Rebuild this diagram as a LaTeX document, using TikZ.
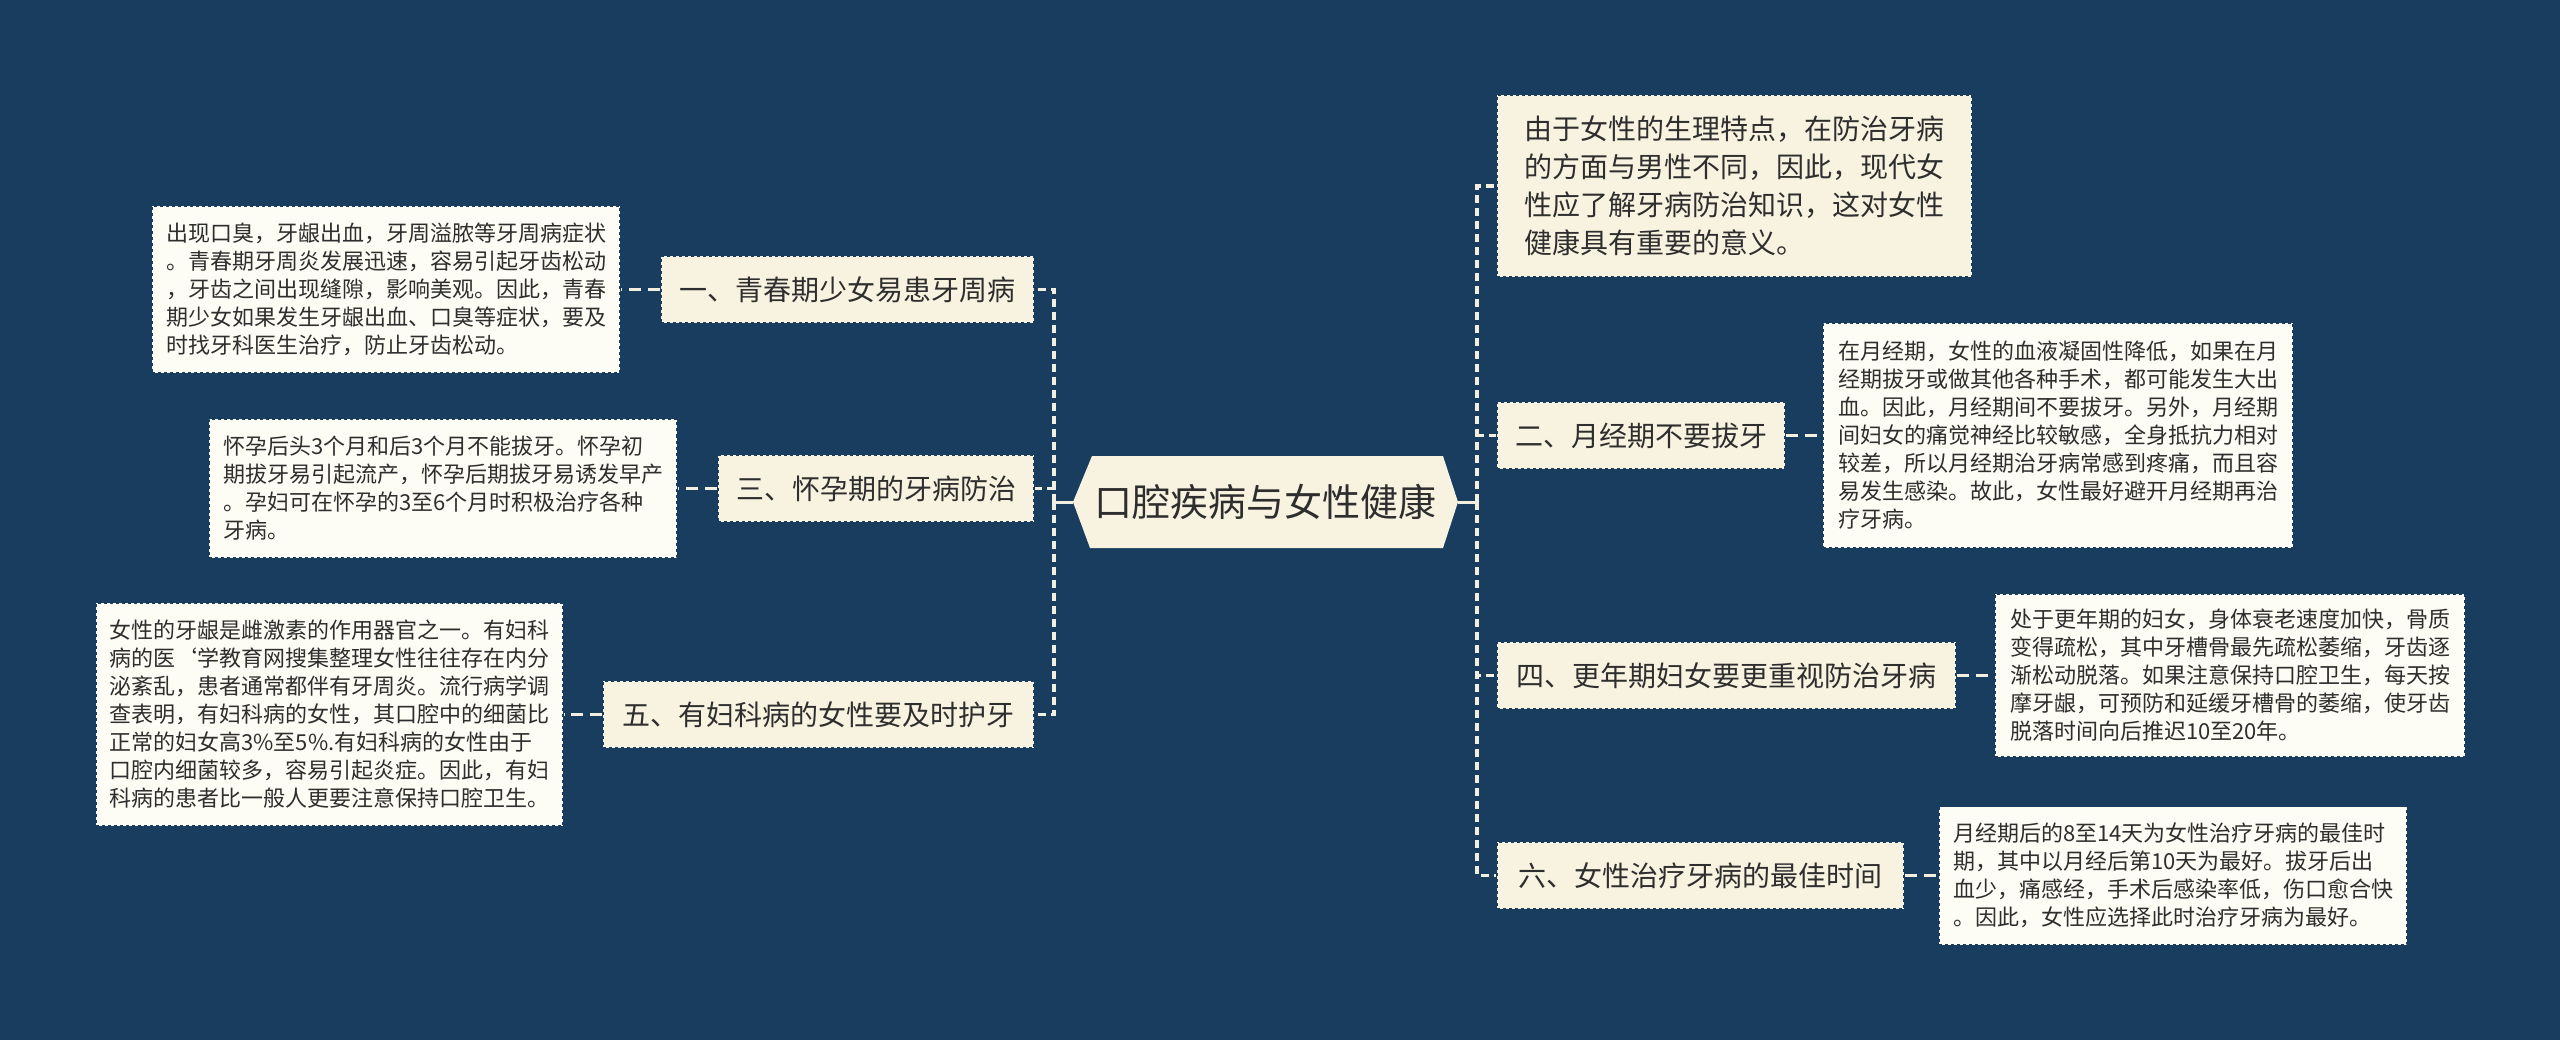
\documentclass[tikz,border=0pt]{standalone}
\usepackage{fontspec}
\setmainfont{Noto Sans CJK SC}
\definecolor{navy}{HTML}{183D5E}
\definecolor{cream}{HTML}{F8F3E0}
\definecolor{paper}{HTML}{FDFCF5}
\definecolor{txt}{HTML}{2E2E2E}
\definecolor{linec}{HTML}{F3EFE0}
\begin{document}
\begin{tikzpicture}[x=1pt,y=-1pt,
  lvlone/.style={draw=navy, dashed, line width=1.2pt, fill=cream, text=txt,
    font=\fontsize{28}{34}\selectfont, minimum height=67pt, inner sep=0pt},
  intro/.style={draw=navy, dashed, line width=1.2pt, fill=cream, text=txt,
    font=\fontsize{28}{38}\selectfont, align=left, inner sep=0pt},
  detail/.style={draw=navy, dashed, line width=1.2pt, fill=paper, text=txt,
    font=\fontsize{22}{28}\selectfont, align=left, inner sep=0pt},
  trunk/.style={draw=linec, line width=3.5pt, dash pattern=on 8pt off 5pt},
  leaf/.style={draw=linec, line width=2.5pt, dash pattern=on 12pt off 7pt},
  stub/.style={draw=linec, line width=3pt}]
\fill[navy] (0,0) rectangle (2560,1040);
\useasboundingbox (0,0) rectangle (2560,1040);

% central hexagon
\fill[cream] (1073,502) -- (1092,456) -- (1443,456) -- (1458,502) -- (1443,548) -- (1090,548) -- cycle;
\node[minimum width=385pt, minimum height=92pt, inner sep=0pt, text=txt,
  font=\fontsize{38}{44}\selectfont] (root) at (1265.5,502) {口腔疾病与女性健康};

\coordinate (ltrunk) at (1054,502);
\coordinate (rtrunk) at (1477,502);

% left level one
\node[lvlone, minimum width=373pt] (l1) at (847.5,289.5) {一、青春期少女易患牙周病};
\node[lvlone, minimum width=316pt] (l3) at (876,488.5) {三、怀孕期的牙病防治};
\node[lvlone, minimum width=431pt] (l5) at (818.5,714.5) {五、有妇科病的女性要及时护牙};

% left details
\node[detail, minimum width=468pt, minimum height=167pt] (d1) at (386,289.5)
 {出现口臭，牙龈出血，牙周溢脓等牙周病症状\\。青春期牙周炎发展迅速，容易引起牙齿松动\\，牙齿之间出现缝隙，影响美观。因此，青春\\期少女如果发生牙龈出血、口臭等症状，要及\\时找牙科医生治疗，防止牙齿松动。};
\node[detail, minimum width=468pt, minimum height=138pt] (d3) at (443,488.5)
 {怀孕后头3个月和后3个月不能拔牙。怀孕初\\期拔牙易引起流产，怀孕后期拔牙易诱发早产\\。孕妇可在怀孕的3至6个月时积极治疗各种\\牙病。};
\node[detail, minimum width=467pt, minimum height=223pt] (d5) at (329.5,714.5)
 {女性的牙龈是雌激素的作用器官之一。有妇科\\病的医\symbol{96}学教育网搜集整理女性往往存在内分\\泌紊乱，患者通常都伴有牙周炎。流行病学调\\查表明，有妇科病的女性，其口腔中的细菌比\\正常的妇女高3\%至5\%.有妇科病的女性由于\\口腔内细菌较多，容易引起炎症。因此，有妇\\科病的患者比一般人更要注意保持口腔卫生。};

% right level one
\node[intro, minimum width=475pt, minimum height=182pt] (r0) at (1734.5,186)
 {由于女性的生理特点，在防治牙病\\的方面与男性不同，因此，现代女\\性应了解牙病防治知识，这对女性\\健康具有重要的意义。};
\node[lvlone, minimum width=288pt] (r2) at (1641,435.5) {二、月经期不要拔牙};
\node[lvlone, minimum width=459pt] (r4) at (1726.5,675.5) {四、更年期妇女要更重视防治牙病};
\node[lvlone, minimum width=407pt] (r6) at (1700.5,875.5) {六、女性治疗牙病的最佳时间};

% right details
\node[detail, minimum width=470pt, minimum height=224pt] (r2d) at (2058,435.5)
 {在月经期，女性的血液凝固性降低，如果在月\\经期拔牙或做其他各种手术，都可能发生大出\\血。因此，月经期间不要拔牙。另外，月经期\\间妇女的痛觉神经比较敏感，全身抵抗力相对\\较差，所以月经期治牙病常感到疼痛，而且容\\易发生感染。故此，女性最好避开月经期再治\\疗牙病。};
\node[detail, minimum width=470pt, minimum height=163pt] (r4d) at (2230,675.5)
 {处于更年期的妇女，身体衰老速度加快，骨质\\变得疏松，其中牙槽骨最先疏松萎缩，牙齿逐\\渐松动脱落。如果注意保持口腔卫生，每天按\\摩牙龈，可预防和延缓牙槽骨的萎缩，使牙齿\\脱落时间向后推迟10至20年。};
\node[detail, minimum width=468pt, minimum height=138pt] (r6d) at (2173,875.5)
 {月经期后的8至14天为女性治疗牙病的最佳时\\期，其中以月经后第10天为最好。拔牙后出\\血少，痛感经，手术后感染率低，伤口愈合快\\。因此，女性应选择此时治疗牙病为最好。};

% connectors
\draw[stub] (root.west) -- (ltrunk);
\draw[stub] (root.east) -- (rtrunk);
\draw[trunk] (ltrunk) |- (l1.east);
\draw[trunk] (ltrunk) |- (l3.east);
\draw[trunk] (ltrunk) |- (l5.east);
\draw[trunk] (rtrunk) |- (r0.west);
\draw[trunk] (rtrunk) |- (r2.west);
\draw[trunk] (rtrunk) |- (r4.west);
\draw[trunk] (rtrunk) |- (r6.west);
\draw[leaf] (l1.west) -- (l1.west -| d1.east);
\draw[leaf] (l3.west) -- (l3.west -| d3.east);
\draw[leaf] (l5.west) -- (l5.west -| d5.east);
\draw[leaf] (r2.east) -- (r2.east -| r2d.west);
\draw[leaf] (r4.east) -- (r4.east -| r4d.west);
\draw[leaf] (r6.east) -- (r6.east -| r6d.west);
\end{tikzpicture}
\end{document}
